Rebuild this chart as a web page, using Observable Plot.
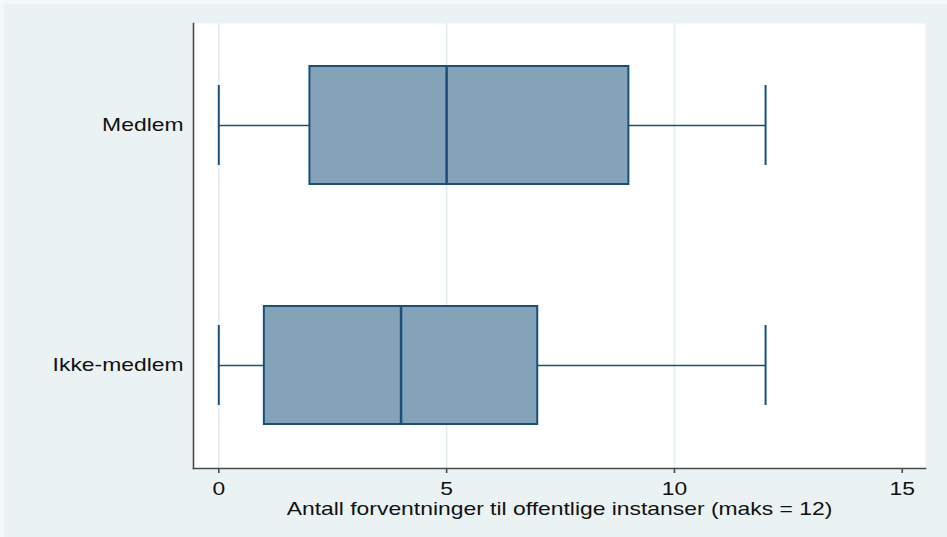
<!DOCTYPE html>
<html>
<head>
<meta charset="utf-8">
<script src="https://cdn.jsdelivr.net/npm/d3@7"></script>
<script src="https://cdn.jsdelivr.net/npm/@observablehq/plot@0.6"></script>
<style>
  html, body { margin: 0; padding: 0; background: #F4F8F8; }
  #chart { position: absolute; left: 4px; top: 4px; }
  #chart svg { display: block; }
</style>
</head>
<body>
<div id="chart"></div>
<script>
const groups = ["Medlem", "Ikke-medlem"];
const mins = [0, 0];
const q1s = [2, 1];
const medians = [5, 4];
const q3s = [9, 7];
const maxs = [12, 12];
const xTicks = [0, 5, 10, 15];
const gridTicks = [0, 5, 10];
const xDomain = [-0.555, 15.51];
const xTitle = "Antall forventninger til offentlige instanser (maks = 12)";

const data = groups.map((g, i) => ({group: g, min: mins[i], q1: q1s[i], median: medians[i], q3: q3s[i], max: maxs[i]}));

const navy = "#1A4F7A";
const fillC = "#84A3B8";
const bg = "#EAF2F3";

const plot = Plot.plot({
  width: 943,
  height: 533,
  marginLeft: 189,
  marginRight: 22,
  marginTop: 19,
  marginBottom: 69,
  style: {background: bg, fontFamily: "'Liberation Sans', Arial, sans-serif", fontSize: "18.6px", color: "#111"},
  x: {domain: xDomain, axis: null},
  y: {type: "band", domain: groups, paddingInner: 0.508, paddingOuter: 0.181, align: 0.5, axis: null},
  marks: [
    Plot.frame({fill: "white", stroke: null}),
    Plot.ruleX(gridTicks, {stroke: "#E2EDEF", strokeWidth: 1.5}),
    Plot.ruleY(data, {y: "group", x1: "min", x2: "max", stroke: navy, strokeWidth: 1.6}),
    Plot.tickX(data, {x: "min", y: "group", stroke: navy, strokeWidth: 2, insetTop: 19, insetBottom: 19}),
    Plot.tickX(data, {x: "max", y: "group", stroke: navy, strokeWidth: 2, insetTop: 19, insetBottom: 19}),
    Plot.barX(data, {y: "group", x1: "q1", x2: "q3", fill: fillC, stroke: navy, strokeWidth: 2}),
    Plot.tickX(data, {x: "median", y: "group", stroke: navy, strokeWidth: 2.5}),
    Plot.frame({anchor: "left", stroke: "#4a4a4a", strokeWidth: 1.6}),
    Plot.frame({anchor: "bottom", stroke: "#4a4a4a", strokeWidth: 1.6}),
    Plot.axisX(xTicks, {anchor: "bottom", tickSize: 5, tickPadding: 8, stroke: "#4a4a4a", strokeWidth: 1.6, fill: "#111", label: null, fontSize: 18.6}),
    Plot.axisY(groups, {anchor: "left", tickSize: 0, tickPadding: 10, fill: "#111", label: null, fontSize: 18.6}),
    Plot.text([xTitle], {frameAnchor: "bottom", dy: 46, fill: "#111", fontSize: 18.6})
  ]
});
document.getElementById("chart").appendChild(plot);

// Stretch text horizontally to match the reference's wide lettering
plot.querySelectorAll("text").forEach(t => {
  const len = t.getComputedTextLength();
  if (len > 0) {
    t.setAttribute("textLength", (len * 1.23).toFixed(1));
    t.setAttribute("lengthAdjust", "spacingAndGlyphs");
  }
});
</script>
</body>
</html>
